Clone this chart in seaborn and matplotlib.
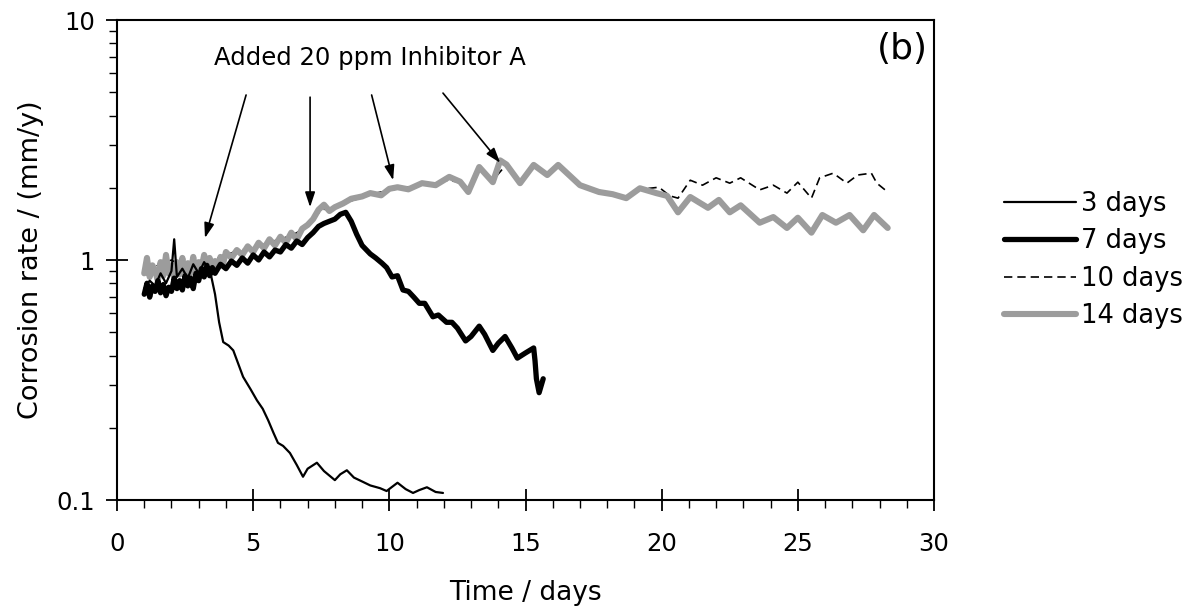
import matplotlib
matplotlib.use("Agg")
import matplotlib.pyplot as plt
import seaborn as sns
import pandas as pd
from matplotlib.ticker import LogLocator, NullFormatter, FixedLocator, FixedFormatter, MultipleLocator

# ---------------- data ----------------
t_3 = [1.0, 1.2, 1.4, 1.6, 1.8, 2.0, 2.1, 2.2, 2.4, 2.6, 2.8, 3.0, 3.2, 3.35, 3.45, 3.6, 3.75,
       3.9, 4.1, 4.27, 4.45, 4.63, 4.9, 5.14, 5.35, 5.55, 5.75, 5.91, 6.1, 6.35, 6.6, 6.83, 7.0,
       7.34, 7.6, 8.0, 8.2, 8.44, 8.7, 9.03, 9.3, 9.66, 9.9, 10.3, 10.6, 10.87, 11.1, 11.38, 11.7, 11.97]
r_3 = [0.76, 0.82, 0.78, 0.88, 0.80, 0.90, 1.22, 0.85, 0.92, 0.84, 0.96, 0.88, 0.98, 0.92, 0.866,
       0.72, 0.55, 0.455, 0.44, 0.42, 0.37, 0.326, 0.29, 0.26, 0.24, 0.215, 0.19, 0.173, 0.168,
       0.157, 0.14, 0.125, 0.135, 0.143, 0.132, 0.121, 0.128, 0.133, 0.124, 0.119, 0.115, 0.112,
       0.109, 0.118, 0.111, 0.107, 0.110, 0.113, 0.108, 0.107]

t_7 = [1.0, 1.1, 1.2, 1.3, 1.4, 1.5, 1.6, 1.7, 1.8, 1.9, 2.0, 2.1, 2.2, 2.3, 2.4, 2.5, 2.6, 2.7,
       2.8, 2.9, 3.0, 3.1, 3.2, 3.3, 3.4, 3.5, 3.6, 3.8, 4.0, 4.2, 4.4, 4.6, 4.8, 5.0, 5.2, 5.4,
       5.6, 5.8, 6.0, 6.2, 6.4, 6.6, 6.8, 7.0, 7.2, 7.4, 7.6, 7.8, 8.0, 8.2, 8.4, 8.6, 8.8, 9.0,
       9.3, 9.5, 9.73, 9.9, 10.1, 10.3, 10.5, 10.7, 10.9, 11.1, 11.3, 11.6, 11.8, 12.1, 12.3, 12.5,
       12.8, 13.0, 13.3, 13.5, 13.8, 14.0, 14.25, 14.5, 14.7, 15.0, 15.3, 15.35, 15.4, 15.5, 15.65]
r_7 = [0.72, 0.80, 0.70, 0.78, 0.74, 0.82, 0.73, 0.79, 0.71, 0.77, 0.74, 0.84, 0.76, 0.82, 0.75,
       0.86, 0.78, 0.84, 0.76, 0.88, 0.82, 0.92, 0.85, 0.95, 0.86, 0.93, 0.88, 0.96, 0.92, 0.99,
       0.95, 1.02, 0.97, 1.05, 1.00, 1.08, 1.03, 1.10, 1.08, 1.16, 1.12, 1.20, 1.16, 1.24, 1.30,
       1.38, 1.42, 1.45, 1.48, 1.55, 1.58, 1.45, 1.28, 1.15, 1.06, 1.02, 0.97, 0.93, 0.85, 0.86,
       0.75, 0.74, 0.70, 0.66, 0.66, 0.58, 0.59, 0.55, 0.55, 0.52, 0.46, 0.48, 0.53, 0.49, 0.42,
       0.45, 0.48, 0.43, 0.39, 0.41, 0.43, 0.38, 0.32, 0.28, 0.32]

t_10 = [1.0, 1.5, 2.0, 2.5, 3.0, 3.5, 4.0, 4.5, 5.0, 5.5, 6.0, 6.5, 7.0, 7.5, 8.0, 8.5, 9.0, 9.5,
        10.0, 10.5, 11.0, 11.5, 12.0, 12.5, 12.9, 13.3, 13.8, 14.3, 14.8, 15.3, 15.8, 16.2, 17.0,
        17.7, 18.7, 19.2, 19.9, 20.3, 20.6, 21.05, 21.5, 22.0, 22.5, 22.9, 23.6, 24.1, 24.6, 25.0,
        25.5, 25.8, 26.3, 26.8, 27.2, 27.7, 27.9, 28.3]
r_10 = [0.90, 0.95, 1.00, 0.92, 0.98, 1.00, 1.05, 1.10, 1.12, 1.18, 1.22, 1.28, 1.38, 1.62, 1.65,
        1.75, 1.82, 1.90, 1.95, 2.00, 2.05, 2.05, 2.15, 2.12, 1.95, 2.40, 2.15, 2.50, 2.12, 2.45,
        2.28, 2.45, 2.05, 1.95, 1.83, 1.97, 2.01, 1.85, 1.81, 2.15, 2.05, 2.20, 2.09, 2.20, 1.96,
        2.05, 1.90, 2.11, 1.81, 2.20, 2.30, 2.09, 2.26, 2.30, 2.09, 1.92]

t_14 = [1.0, 1.1, 1.2, 1.3, 1.4, 1.5, 1.6, 1.7, 1.8, 1.9, 2.0, 2.1, 2.2, 2.3, 2.4, 2.5, 2.6, 2.7,
        2.8, 2.9, 3.0, 3.1, 3.2, 3.3, 3.4, 3.5, 3.6, 3.7, 3.8, 3.9, 4.0, 4.2, 4.4, 4.6, 4.8, 5.0,
        5.2, 5.4, 5.6, 5.8, 6.0, 6.2, 6.4, 6.6, 6.8, 7.0, 7.2, 7.4, 7.6, 7.8, 8.0, 8.3, 8.6, 9.0,
        9.3, 9.7, 10.0, 10.3, 10.7, 11.2, 11.7, 12.2, 12.6, 12.9, 13.3, 13.8, 14.07, 14.3, 14.8,
        15.3, 15.8, 16.2, 17.0, 17.7, 18.2, 18.7, 19.2, 19.8, 20.2, 20.6, 21.05, 21.7, 22.1, 22.5,
        22.9, 23.6, 24.1, 24.6, 25.0, 25.5, 25.9, 26.4, 26.9, 27.4, 27.8, 28.3]
r_14 = [0.88, 1.02, 0.85, 0.95, 0.90, 0.82, 0.98, 0.86, 1.05, 0.88, 0.95, 0.84, 0.98, 0.87, 1.02,
        0.85, 0.97, 0.88, 1.03, 0.86, 0.98, 0.92, 1.05, 0.93, 1.02, 0.95, 0.99, 0.94, 1.03, 0.97,
        1.08, 1.02, 1.10, 1.05, 1.14, 1.08, 1.18, 1.12, 1.22, 1.15, 1.25, 1.18, 1.30, 1.22, 1.35,
        1.40, 1.48, 1.62, 1.70, 1.60, 1.66, 1.72, 1.80, 1.84, 1.90, 1.86, 1.98, 2.01, 1.97, 2.09,
        2.05, 2.22, 2.12, 1.92, 2.44, 2.11, 2.60, 2.50, 2.09, 2.49, 2.26, 2.49, 2.05, 1.92, 1.88,
        1.81, 1.99, 1.90, 1.85, 1.58, 1.83, 1.65, 1.78, 1.58, 1.69, 1.43, 1.51, 1.36, 1.50, 1.30,
        1.54, 1.43, 1.54, 1.33, 1.54, 1.36]

series_labels = ["3 days", "7 days", "10 days", "14 days"]
x_ticks = [0, 5, 10, 15, 20, 25, 30]
y_ticks = [0.1, 1, 10]
y_tick_labels = ["0.1", "1", "10"]
annotation_text = "Added 20 ppm Inhibitor A"
annotation_pos = (9.29, 6.95)
arrow_targets = [(3.23, 1.235), (7.09, 1.66), (10.14, 2.15), (14.07, 2.54)]
arrow_starts = [(4.74, 4.87), (7.09, 4.77), (9.35, 4.87), (11.97, 4.96)]

# ---------------- plot ----------------
sns.set_style("ticks")
plt.rcParams['font.family'] = ['DejaVu Sans']
plt.rcParams['text.color'] = 'black'
plt.rcParams['axes.labelcolor'] = 'black'
plt.rcParams['xtick.color'] = 'black'
plt.rcParams['ytick.color'] = 'black'

fig = plt.figure(figsize=(11.94, 6.09), dpi=100)
ax = fig.add_axes([117/1194, 109/609, (934-117)/1194, (500-20)/609])

data = {
    "3 days": (t_3, r_3),
    "7 days": (t_7, r_7),
    "10 days": (t_10, r_10),
    "14 days": (t_14, r_14),
}
styles = {
    "3 days": dict(color="black", lw=1.6, ls="-", zorder=4),
    "7 days": dict(color="black", lw=3.8, ls="-", zorder=3),
    "10 days": dict(color="black", lw=1.2, ls=(0, (5, 3)), zorder=1),
    "14 days": dict(color="#9c9c9c", lw=4.4, ls="-", zorder=2),
}
for lab in series_labels:
    tt, rr = data[lab]
    df = pd.DataFrame({"t": tt, "rate": rr})
    st = styles[lab]
    sns.lineplot(data=df, x="t", y="rate", ax=ax, estimator=None, sort=False,
                 color=st["color"], linewidth=st["lw"], linestyle=st["ls"],
                 zorder=st["zorder"], label=lab)

ax.set_yscale("log")
ax.set_xlim(0, 30)
ax.set_ylim(0.1, 10)
ax.xaxis.set_major_locator(FixedLocator(x_ticks))
ax.xaxis.set_minor_locator(MultipleLocator(1))
ax.yaxis.set_major_locator(FixedLocator(y_ticks))
ax.yaxis.set_major_formatter(FixedFormatter(y_tick_labels))
ax.yaxis.set_minor_locator(LogLocator(base=10, subs=range(2, 10)))
ax.yaxis.set_minor_formatter(NullFormatter())

ax.tick_params(axis="both", which="major", direction="inout", length=16, width=1.3,
               labelsize=17.5, colors="black")
ax.tick_params(axis="x", which="major", pad=15)
ax.tick_params(axis="y", which="major", pad=8)
ax.tick_params(axis="both", which="minor", direction="out", length=6, width=1.0)
ax.tick_params(top=False, right=False, which="both")
for s in ax.spines.values():
    s.set_visible(True)
    s.set_linewidth(1.5)
    s.set_color("black")

ax.set_xlabel("Time / days", fontsize=19, labelpad=17, color="black")
ax.set_ylabel("Corrosion rate / (mm/y)", fontsize=19.5, labelpad=9, color="black")

ax.text(annotation_pos[0], annotation_pos[1], annotation_text, fontsize=17.5,
        ha="center", va="center", color="black")
for (xt, yt), (xs, ys) in zip(arrow_targets, arrow_starts):
    ax.annotate("", xy=(xt, yt), xytext=(xs, ys),
                arrowprops=dict(arrowstyle="-|>,head_length=0.9,head_width=0.3",
                                color="black", lw=1.2, shrinkA=0, shrinkB=0), zorder=6)

ax.text(0.993, 0.975, "(b)", transform=ax.transAxes, fontsize=26, ha="right", va="top",
        color="black")

leg = ax.legend(loc="center left", bbox_to_anchor=(981/1194, 1 - 260/609),
                bbox_transform=fig.transFigure, frameon=False, fontsize=18.5,
                handlelength=2.8, handletextpad=0.2, labelspacing=0.45)
for txt in leg.get_texts():
    txt.set_color("black")

fig.savefig("out.png", dpi=100)
